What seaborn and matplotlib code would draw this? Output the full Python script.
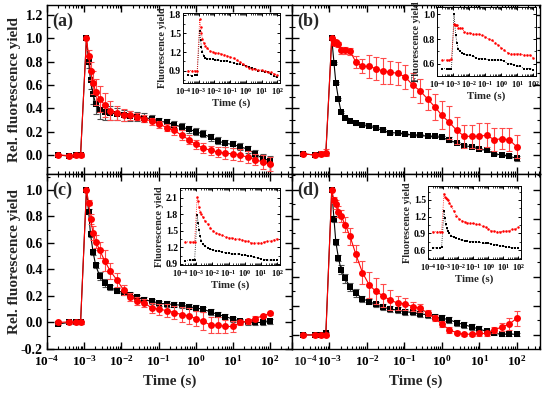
import numpy as np
import matplotlib
matplotlib.use("Agg")
import matplotlib.pyplot as plt
import seaborn as sns
from matplotlib.ticker import (LogLocator, MultipleLocator, FormatStrFormatter, NullFormatter,
                               LogFormatterSciNotation, FuncFormatter, FixedLocator)

# ---------------- data ----------------
time_s = [2e-4, 4e-4, 6e-4, 8e-4, 1.15e-3, 1.32e-3, 1.48e-3, 1.74e-3, 2.04e-3, 2.63e-3,
          3.55e-3, 5.0e-3, 7.6e-3, 0.0115, 0.0174, 0.0269, 0.0417, 0.066, 0.105, 0.166,
          0.263, 0.417, 0.661, 1.0, 1.58, 2.51, 3.98, 6.31, 10.0, 15.8, 25.1, 39.8, 63.1, 100.0]
decade_ticks = [1e-4, 1e-3, 1e-2, 1e-1, 1e0, 1e1, 1e2]

a_black = [0.0, -0.01, 0.0, 0.0, 1.0, 0.80, 0.64, 0.52, 0.44, 0.39, 0.37, 0.36, 0.35, 0.34, 0.335, 0.33, 0.32,
           0.31, 0.29, 0.28, 0.26, 0.24, 0.22, 0.20, 0.18, 0.15, 0.12, 0.10, 0.09, 0.07, 0.05, 0.01, -0.03, -0.05]
a_black_err = [0.01, 0.01, 0.01, 0.01, 0.0, 0.05, 0.07, 0.08, 0.09, 0.08, 0.07, 0.06, 0.05, 0.05, 0.04, 0.04, 0.04,
               0.03, 0.03, 0.03, 0.03, 0.03, 0.03, 0.03, 0.03, 0.03, 0.03, 0.03, 0.03, 0.03, 0.03, 0.03, 0.04, 0.04]
a_red = [0.0, -0.005, 0.0, 0.0, 1.0, 0.85, 0.72, 0.62, 0.54, 0.48, 0.43, 0.38, 0.36, 0.345, 0.34, 0.33, 0.31,
         0.29, 0.265, 0.235, 0.21, 0.17, 0.13, 0.09, 0.06, 0.04, 0.025, 0.015, 0.01, 0.0, -0.02, -0.04, -0.06, -0.08]
a_red_err = [0.01, 0.01, 0.02, 0.02, 0.0, 0.05, 0.08, 0.10, 0.11, 0.11, 0.10, 0.08, 0.06, 0.05, 0.04, 0.03, 0.03,
             0.03, 0.03, 0.03, 0.04, 0.04, 0.04, 0.04, 0.04, 0.04, 0.04, 0.05, 0.05, 0.05, 0.05, 0.05, 0.06, 0.06]

b_black = [0.01, 0.0, 0.01, 0.01, 1.0, 0.79, 0.62, 0.48, 0.37, 0.32, 0.29, 0.27, 0.26, 0.25, 0.23, 0.21, 0.19,
           0.19, 0.18, 0.17, 0.17, 0.16, 0.16, 0.15, 0.13, 0.10, 0.08, 0.07, 0.05, 0.04, 0.01, 0.0, -0.01, -0.03]
b_black_err = [0.01, 0.01, 0.01, 0.01, 0.0, 0.01, 0.01, 0.01, 0.01, 0.01, 0.01, 0.01, 0.01, 0.01, 0.01, 0.01, 0.01,
               0.01, 0.01, 0.01, 0.01, 0.01, 0.01, 0.01, 0.02, 0.01, 0.01, 0.01, 0.01, 0.01, 0.01, 0.01, 0.02, 0.02]
b_red = [0.01, 0.0, 0.01, 0.02, 1.0, 0.96, 0.97, 0.95, 0.90, 0.90, 0.89, 0.80, 0.76, 0.76, 0.74, 0.72, 0.71,
         0.70, 0.67, 0.60, 0.55, 0.48, 0.41, 0.34, 0.28, 0.21, 0.16, 0.16, 0.16, 0.17, 0.13, 0.14, 0.13, 0.07]
b_red_err = [0.01, 0.01, 0.02, 0.03, 0.0, 0.02, 0.02, 0.02, 0.03, 0.03, 0.03, 0.05, 0.06, 0.10, 0.10, 0.11, 0.10,
             0.10, 0.10, 0.10, 0.10, 0.09, 0.11, 0.12, 0.14, 0.12, 0.10, 0.10, 0.11, 0.10, 0.10, 0.09, 0.10, 0.10]

c_black = [-0.01, 0.0, 0.0, 0.0, 1.0, 0.835, 0.665, 0.53, 0.43, 0.35, 0.30, 0.265, 0.24, 0.225, 0.21, 0.19, 0.17,
           0.16, 0.145, 0.14, 0.135, 0.13, 0.12, 0.11, 0.10, 0.08, 0.06, 0.045, 0.025, 0.01, 0.0, 0.0, 0.0, 0.01]
c_black_err = [0.01, 0.01, 0.01, 0.01, 0.0, 0.02, 0.02, 0.02, 0.02, 0.03, 0.03, 0.02, 0.02, 0.02, 0.02, 0.02, 0.02,
               0.02, 0.02, 0.02, 0.02, 0.02, 0.02, 0.02, 0.02, 0.02, 0.02, 0.02, 0.02, 0.02, 0.02, 0.02, 0.02, 0.02]
c_red = [0.0, 0.005, 0.0, 0.0, 1.0, 0.905, 0.78, 0.675, 0.61, 0.545, 0.465, 0.39, 0.32, 0.245, 0.195, 0.165, 0.145,
         0.11, 0.10, 0.09, 0.075, 0.06, 0.05, 0.03, 0.01, -0.02, -0.02, -0.03, -0.03, 0.0, 0.01, 0.03, 0.05, 0.07]
c_red_err = [0.01, 0.01, 0.01, 0.01, 0.0, 0.02, 0.04, 0.05, 0.05, 0.06, 0.08, 0.06, 0.05, 0.04, 0.03, 0.03, 0.03,
             0.04, 0.04, 0.05, 0.05, 0.06, 0.06, 0.06, 0.07, 0.06, 0.06, 0.05, 0.04, 0.02, 0.02, 0.02, 0.01, 0.01]

d_black = [0.0, 0.0, 0.0, 0.01, 1.0, 0.80, 0.64, 0.53, 0.45, 0.39, 0.33, 0.29, 0.25, 0.23, 0.21, 0.19, 0.18,
           0.17, 0.16, 0.155, 0.145, 0.14, 0.125, 0.115, 0.105, 0.085, 0.07, 0.055, 0.04, 0.025, 0.01, 0.005, 0.005, 0.005]
d_black_err = [0.01, 0.01, 0.01, 0.01, 0.0, 0.02, 0.02, 0.02, 0.03, 0.03, 0.03, 0.03, 0.02, 0.02, 0.02, 0.02, 0.02,
               0.02, 0.02, 0.02, 0.02, 0.02, 0.02, 0.02, 0.02, 0.02, 0.02, 0.02, 0.02, 0.01, 0.01, 0.01, 0.01, 0.01]
d_red = [0.0, 0.0, 0.0, 0.0, 1.0, 0.93, 0.90, 0.85, 0.82, 0.76, 0.68, 0.56, 0.43, 0.345, 0.30, 0.27, 0.24,
         0.22, 0.215, 0.195, 0.185, 0.15, 0.115, 0.075, 0.035, 0.015, 0.005, 0.005, 0.01, 0.01, 0.035, 0.055, 0.075, 0.115]
d_red_err = [0.01, 0.01, 0.01, 0.01, 0.0, 0.02, 0.03, 0.04, 0.04, 0.05, 0.06, 0.06, 0.08, 0.09, 0.09, 0.08, 0.07,
             0.05, 0.04, 0.03, 0.03, 0.02, 0.02, 0.02, 0.02, 0.01, 0.01, 0.01, 0.02, 0.02, 0.02, 0.03, 0.04, 0.05]

# insets: absolute fluorescence yield
ia_black = [0.83, 0.82, 0.83, 0.83, 1.54, 1.40, 1.28, 1.20, 1.14, 1.11, 1.09, 1.09, 1.08, 1.07, 1.07, 1.06, 1.06,
            1.05, 1.04, 1.03, 1.01, 1.00, 0.99, 0.97, 0.96, 0.94, 0.92, 0.90, 0.89, 0.88, 0.87, 0.84, 0.81, 0.79]
ia_red = [0.90, 0.90, 0.90, 0.90, 1.73, 1.61, 1.50, 1.41, 1.35, 1.30, 1.26, 1.22, 1.20, 1.19, 1.18, 1.17, 1.16,
          1.14, 1.12, 1.10, 1.07, 1.04, 1.01, 0.97, 0.95, 0.93, 0.92, 0.91, 0.91, 0.90, 0.88, 0.87, 0.85, 0.83]
ib_black = [0.56, 0.56, 0.56, 0.56, 1.00, 0.91, 0.83, 0.77, 0.72, 0.70, 0.69, 0.68, 0.67, 0.67, 0.66, 0.65, 0.64,
            0.64, 0.64, 0.63, 0.63, 0.63, 0.63, 0.63, 0.62, 0.60, 0.60, 0.59, 0.58, 0.58, 0.56, 0.56, 0.56, 0.55]
ib_red = [0.63, 0.63, 0.63, 0.64, 0.92, 0.91, 0.91, 0.91, 0.89, 0.89, 0.89, 0.86, 0.85, 0.85, 0.84, 0.84, 0.84,
          0.83, 0.82, 0.80, 0.79, 0.77, 0.75, 0.73, 0.71, 0.69, 0.68, 0.68, 0.68, 0.68, 0.67, 0.67, 0.67, 0.65]
ic_black = [0.96, 0.97, 0.97, 0.97, 1.79, 1.65, 1.52, 1.40, 1.32, 1.26, 1.22, 1.19, 1.17, 1.15, 1.14, 1.13, 1.11,
            1.10, 1.09, 1.08, 1.08, 1.08, 1.07, 1.06, 1.05, 1.04, 1.02, 1.01, 0.99, 0.98, 0.97, 0.97, 0.97, 0.98]
ic_red = [1.30, 1.30, 1.30, 1.30, 2.12, 2.04, 1.94, 1.85, 1.80, 1.75, 1.68, 1.62, 1.56, 1.50, 1.46, 1.44, 1.42,
          1.39, 1.38, 1.37, 1.36, 1.35, 1.34, 1.32, 1.31, 1.28, 1.28, 1.28, 1.28, 1.30, 1.31, 1.32, 1.34, 1.36]
id_black = [0.64, 0.64, 0.64, 0.65, 1.30, 1.17, 1.06, 0.99, 0.94, 0.90, 0.86, 0.83, 0.81, 0.79, 0.78, 0.77, 0.76,
            0.75, 0.75, 0.74, 0.74, 0.73, 0.72, 0.72, 0.71, 0.70, 0.69, 0.68, 0.67, 0.66, 0.65, 0.64, 0.64, 0.64]
id_red = [0.93, 0.93, 0.93, 0.93, 1.61, 1.56, 1.54, 1.51, 1.49, 1.45, 1.39, 1.31, 1.22, 1.16, 1.13, 1.11, 1.09,
          1.08, 1.08, 1.06, 1.06, 1.03, 1.01, 0.98, 0.95, 0.94, 0.93, 0.93, 0.94, 0.94, 0.95, 0.97, 0.98, 1.01]

panel_labels = ["(a)", "(b)", "(c)", "(d)"]
y_label = "Rel. fluorescence yield"
x_label = "Time (s)"
inset_ylabel = "Fluorescence yield"

# ---------------- style ----------------
sns.set_style("ticks")
plt.rcParams.update({
    "font.family": ["Liberation Serif", "DejaVu Serif"],
    "font.weight": "bold",
    "axes.labelweight": "bold",
    "mathtext.fontset": "custom",
    "mathtext.rm": "Liberation Serif:bold",
    "mathtext.it": "Liberation Serif:italic:bold",
    "mathtext.bf": "Liberation Serif:bold",
    "axes.linewidth": 1.0,
    "axes.edgecolor": "black",
    "xtick.color": "black",
    "ytick.color": "black",
})

W, H = 550, 393
fig = plt.figure(figsize=(W / 100, H / 100), dpi=100)
sci = LogFormatterSciNotation()


def rect(x0, y0, x1, y1):
    return [x0 / W, 1 - y1 / H, (x1 - x0) / W, (y1 - y0) / H]


def style_log_axis(ax, major_len, minor_len, lw=1.0):
    ax.xaxis.set_major_locator(FixedLocator(decade_ticks))
    ax.xaxis.set_major_formatter(FuncFormatter(lambda v, pos: sci(v, pos)))
    ax.xaxis.set_minor_locator(LogLocator(base=10, subs=np.arange(2, 10), numticks=12))
    ax.xaxis.set_minor_formatter(NullFormatter())
    ax.tick_params(which="major", direction="in", length=major_len, width=lw,
                   top=True, right=True)
    ax.tick_params(which="minor", direction="in", length=minor_len, width=lw * 0.8,
                   top=True, right=True)


def draw_main(ax, blk, blk_err, red, red_err, xlim, ylim, label):
    ax.set_xscale("log")
    ax.errorbar(time_s, blk, yerr=blk_err, fmt="none", ecolor="#505050",
                elinewidth=0.8, capsize=2, capthick=0.8, zorder=2)
    sns.lineplot(x=time_s, y=blk, ax=ax, color="black", marker="s", markersize=4.2,
                 markeredgewidth=0, linewidth=0.8, zorder=3)
    ax.errorbar(time_s, red, yerr=red_err, fmt="none", ecolor="#ff4a4a",
                elinewidth=0.8, capsize=2, capthick=0.8, zorder=4)
    sns.lineplot(x=time_s, y=red, ax=ax, color="red", marker="o", markersize=5,
                 markeredgewidth=0, linewidth=0.8, zorder=5)
    ax.set_xlim(*xlim)
    ax.set_ylim(*ylim)
    style_log_axis(ax, 5, 2.5)
    ax.yaxis.set_major_locator(MultipleLocator(0.2))
    ax.yaxis.set_minor_locator(MultipleLocator(0.1))
    ax.yaxis.set_major_formatter(FormatStrFormatter("%.1f"))
    ax.tick_params(axis="y", which="major", labelsize=10, pad=3)
    ax.tick_params(axis="x", which="major", labelsize=9.5, pad=3.5)
    ax.set_xlabel("")
    ax.set_ylabel("")
    ax.text(0.02, 0.905, label, transform=ax.transAxes, fontsize=13,
            fontweight="bold", ha="left", va="center")


def draw_inset(r, blk, red, ylim, ystep):
    ax = fig.add_axes(r)
    ax.set_facecolor("white")
    ax.set_xscale("log")
    sns.lineplot(x=time_s, y=blk, ax=ax, color="black", marker="s", markersize=1.8,
                 markeredgewidth=0, linewidth=0.6, linestyle=":", zorder=3)
    sns.lineplot(x=time_s, y=red, ax=ax, color="red", marker="o", markersize=1.8,
                 markeredgewidth=0, linewidth=0.6, linestyle=":", zorder=4)
    ax.set_xlim(1e-4, 150)
    ax.set_ylim(*ylim)
    style_log_axis(ax, 2.5, 1.3, lw=0.7)
    ax.yaxis.set_major_locator(MultipleLocator(ystep))
    ax.yaxis.set_minor_locator(MultipleLocator(ystep / 2))
    ax.yaxis.set_major_formatter(FormatStrFormatter("%.1f"))
    ax.tick_params(axis="y", which="major", labelsize=7, pad=1.5)
    ax.tick_params(axis="x", which="major", labelsize=6, pad=2)
    for s in ax.spines.values():
        s.set_linewidth(0.7)
    ax.set_xlabel(x_label, fontsize=7.8, fontweight="bold", labelpad=1.5)
    ax.set_ylabel(inset_ylabel, fontsize=7.4, fontweight="bold", labelpad=1.0)
    return ax


xl_left = (1e-4, 10 ** 2.59)
xl_right = (1e-4, 10 ** 2.62)

ax_a = fig.add_axes(rect(47, 5, 292, 174))
ax_b = fig.add_axes(rect(292, 5, 540, 174))
ax_c = fig.add_axes(rect(47, 174, 292, 349))
ax_d = fig.add_axes(rect(292, 174, 540, 349))

draw_main(ax_a, a_black, a_black_err, a_red, a_red_err, xl_left, (-0.163, 1.286), panel_labels[0])
draw_main(ax_b, b_black, b_black_err, b_red, b_red_err, xl_right, (-0.163, 1.286), panel_labels[1])
draw_main(ax_c, c_black, c_black_err, c_red, c_red_err, xl_left, (-0.2, 1.12), panel_labels[2])
draw_main(ax_d, d_black, d_black_err, d_red, d_red_err, xl_right, (-0.097, 1.11), panel_labels[3])

for ax in (ax_a, ax_b):
    ax.tick_params(axis="x", labelbottom=False)
for ax in (ax_b, ax_d):
    ax.tick_params(axis="y", labelleft=False)

# panel (d): its first decade label sits just right of the spine, as in the reference
ax_d.xaxis.set_major_formatter(FuncFormatter(
    lambda v, pos: "" if abs(np.log10(v) + 4) < 1e-6 else sci(v, pos)))
ax_d.annotate(r"$\mathdefault{10^{-4}}$", xy=(1e-4, 0), xycoords=("data", "axes fraction"),
              xytext=(1, -3.5), textcoords="offset points", ha="left", va="top",
              fontsize=9.5, fontweight="bold")

for ax in (ax_a, ax_c):
    ax.set_ylabel(y_label, fontsize=11, fontweight="bold")
    ax.yaxis.set_label_coords(-0.105, 0.5)
for ax in (ax_c, ax_d):
    ax.set_xlabel(x_label, fontsize=11, fontweight="bold", labelpad=4)

draw_inset(rect(183, 13, 280, 83), ia_black, ia_red, (0.70, 1.83), 0.3)
draw_inset(rect(437, 7, 536, 76), ib_black, ib_red, (0.50, 1.06), 0.2)
draw_inset(rect(180, 188, 280, 265), ic_black, ic_red, (0.88, 2.28), 0.3)
draw_inset(rect(428, 186, 521, 259), id_black, id_red, (0.44, 1.75), 0.3)

fig.savefig("out.png", dpi=100)
